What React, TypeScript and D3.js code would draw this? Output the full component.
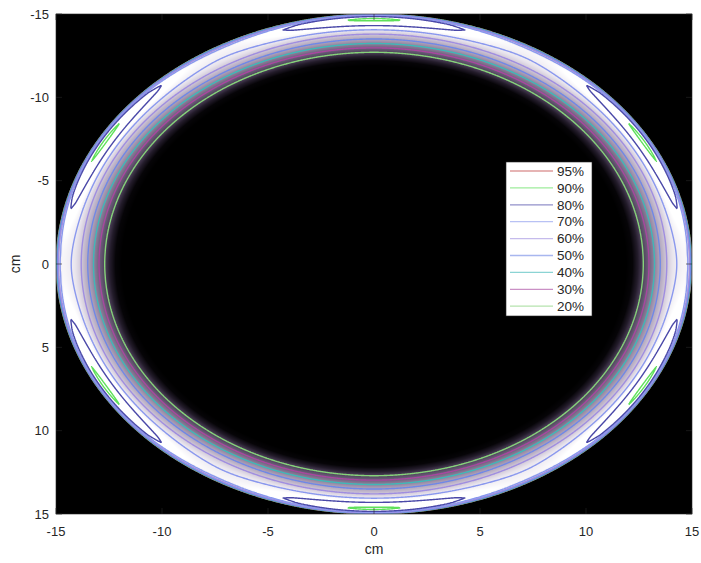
import React, { useMemo } from 'react';
import * as d3 from 'd3';

// ---- data ----
const xTicks = [-15, -10, -5, 0, 5, 10, 15];
const yTicks = [-15, -10, -5, 0, 5, 10, 15];
const levels = [0.95, 0.9, 0.8, 0.7, 0.6, 0.5, 0.4, 0.3, 0.2];
const levelLabels = ['95%', '90%', '80%', '70%', '60%', '50%', '40%', '30%', '20%'];
const levelColors = ['#c85a5a', '#5ee05a', '#4a48a8', '#8a98ee', '#a08ee0', '#7088e6', '#3fb8b8', '#a8479f', '#86d27a'];
// radial intensity profile of the ring (cm -> relative dose)
const profileR = [11.9, 12.2, 12.45, 12.7, 12.97, 13.23, 13.5, 13.8, 14.1, 14.34, 14.55, 14.68, 14.8, 14.9, 14.96, 15.01];
const profileV = [0, 0.01, 0.08, 0.2, 0.3, 0.4, 0.5, 0.6, 0.7, 0.76, 0.805, 0.82, 0.79, 0.64, 0.44, 0];
// angular hot spots
const hotSpotCount = [6];
const hotSpotPhaseDeg = [90];
const hotSpotAmp = [0.115];
const hotSpotRadius = [14.68];
const hotSpotWidth = [0.5];

const W = 701, H = 563;
const PL = 56, PR = 692, PT = 14, PB = 514;
const FONT = 'Liberation Sans, Arial, Helvetica, sans-serif';

export default function App() {
  const sx = d3.scaleLinear().domain([-15, 15]).range([PL, PR]);
  const sy = d3.scaleLinear().domain([-15, 15]).range([PT, PB]);
  const profile = d3.scaleLinear().domain(profileR).range(profileV).clamp(true);
  const n6 = hotSpotCount[0];
  const ph = (hotSpotPhaseDeg[0] * Math.PI) / 180;
  const intensity = (x: number, y: number) => {
    const r = Math.hypot(x, y);
    const p = profile(r);
    if (p <= 0) return 0;
    const th = Math.atan2(y, x);
    const g = Math.exp(-Math.pow((r - hotSpotRadius[0]) / hotSpotWidth[0], 2));
    return p * (1 + hotSpotAmp[0] * g * Math.cos(n6 * (th - ph)));
  };

  const imgHref = useMemo(() => {
    const pw = PR - PL, phh = PB - PT;
    const canvas = document.createElement('canvas');
    canvas.width = pw; canvas.height = phh;
    const ctx = canvas.getContext('2d')!;
    const img = ctx.createImageData(pw, phh);
    for (let j = 0; j < phh; j++) {
      const y = sy.invert(PT + j + 0.5);
      for (let i = 0; i < pw; i++) {
        const x = sx.invert(PL + i + 0.5);
        const I = intensity(x, y);
        const v = Math.pow(Math.min(1, Math.max(0, I / 0.75)), 0.85) * 255;
        const t = 4 * (v / 255) * (1 - v / 255);
        const k = (j * pw + i) * 4;
        img.data[k] = Math.max(0, Math.min(255, v - 6 * t));
        img.data[k + 1] = Math.max(0, Math.min(255, v - 20 * t));
        img.data[k + 2] = Math.max(0, Math.min(255, v + 8 * t));
        img.data[k + 3] = 255;
      }
    }
    ctx.putImageData(img, 0, 0);
    return canvas.toDataURL();
  }, []);

  const contourPaths = useMemo(() => {
    const x0 = -15.2, step = 0.04;
    const n = Math.round(30.4 / step) + 1;
    const vals = new Float64Array(n * n);
    for (let j = 0; j < n; j++) {
      const y = x0 + j * step;
      for (let i = 0; i < n; i++) vals[j * n + i] = intensity(x0 + i * step, y);
    }
    const gen = d3.contours().size([n, n]).thresholds(levels.slice().reverse());
    const cs = gen(Array.from(vals));
    const proj = d3.geoTransform({
      point(x: number, y: number) {
        (this as any).stream.point(sx(x0 + (x - 0.5) * step), sy(x0 + (y - 0.5) * step));
      },
    });
    const path = d3.geoPath(proj);
    return cs.map((c) => ({ value: c.value, d: path(c as any) || '' }));
  }, []);

  const colorOf = (v: number) => levelColors[levels.findIndex((l) => Math.abs(l - v) < 1e-6)];

  const legX = 506, legY = 162, legW = 86, legH = 154;
  const rowY = (i: number) => 171 + i * 16.9;

  return (
    <svg width={W} height={H} style={{ position: 'absolute', left: 0, top: 0, background: '#fff' }} fontFamily={FONT}>
      <defs>
        <clipPath id="plotclip">
          <rect x={PL} y={PT} width={PR - PL} height={PB - PT} />
        </clipPath>
      </defs>
      <rect x={PL} y={PT} width={PR - PL} height={PB - PT} fill="#000" />
      <image href={imgHref} x={PL} y={PT} width={PR - PL} height={PB - PT} preserveAspectRatio="none" />
      <g clipPath="url(#plotclip)" fill="none">
        {contourPaths.map((c, i) => (
          <path key={i} d={c.d} stroke={colorOf(c.value)} strokeWidth={1.4} strokeLinejoin="round" />
        ))}
      </g>
      {/* ticks */}
      <g stroke="#262626" strokeWidth={0.6}>
        {xTicks.map((t) => (
          <g key={'x' + t}>
            <line x1={sx(t)} x2={sx(t)} y1={PB} y2={PB - 6} />
            <line x1={sx(t)} x2={sx(t)} y1={PT} y2={PT + 6} />
          </g>
        ))}
        {yTicks.map((t) => (
          <g key={'y' + t}>
            <line y1={sy(t)} y2={sy(t)} x1={PL} x2={PL + 6} />
            <line y1={sy(t)} y2={sy(t)} x1={PR} x2={PR - 6} />
          </g>
        ))}
      </g>
      <rect x={PL} y={PT} width={PR - PL} height={PB - PT} fill="none" stroke="#262626" strokeWidth={0.6} />
      {/* tick labels */}
      <g fill="#262626" fontSize={13}>
        {xTicks.map((t) => (
          <text key={'xl' + t} x={sx(t)} y={536} textAnchor="middle">{t}</text>
        ))}
        {yTicks.map((t) => (
          <text key={'yl' + t} x={49} y={sy(t) + 4.5} textAnchor="end">{t}</text>
        ))}
        <text x={(PL + PR) / 2} y={554} textAnchor="middle" fontSize={14}>cm</text>
        <text transform={`translate(20,${(PT + PB) / 2}) rotate(-90)`} textAnchor="middle" fontSize={14}>cm</text>
      </g>
      {/* legend */}
      <rect x={legX} y={legY} width={legW} height={legH} fill="#fff" stroke="#262626" strokeWidth={0.6} />
      {levels.map((l, i) => (
        <g key={'lg' + l}>
          <line x1={510} x2={553} y1={rowY(i)} y2={rowY(i)} stroke={levelColors[i]} strokeWidth={1.3} opacity={0.6} />
          <text x={557} y={rowY(i) + 4.7} fontSize={13.5} fill="#262626">{levelLabels[i]}</text>
        </g>
      ))}
    </svg>
  );
}
